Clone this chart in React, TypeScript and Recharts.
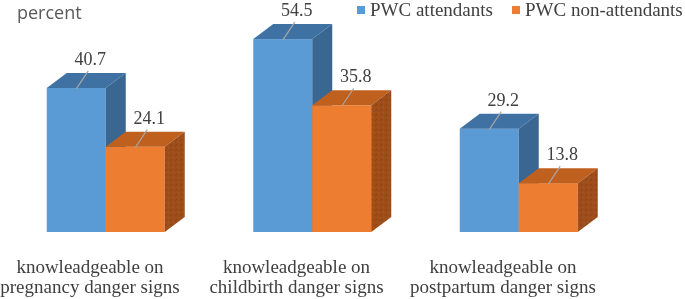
import { BarChart, Bar, XAxis, YAxis, LabelList } from 'recharts';

// categories split in two lines, as in the original figure
const categoryLine1 = ['knowleadgeable on', 'knowleadgeable on', 'knowleadgeable on'];
const categoryLine2 = ['pregnancy danger signs', 'childbirth danger signs', 'postpartum danger signs'];

const attendants = [40.7, 54.5, 29.2];
const nonAttendants = [24.1, 35.8, 13.8];

const seriesNames = ['PWC attendants', 'PWC non-attendants'];

const data = categoryLine1.map((l1, i) => ({
  name: l1 + ' ' + categoryLine2[i],
  idx: i,
  attendants: attendants[i],
  nonAttendants: nonAttendants[i],
}));

const DX = 20;
const DY = 15;
const SERIF = '"Liberation Serif", "Times New Roman", serif';

const faces = {
  blue: { front: '#5B9BD5', top: '#3F72A3', side: '#396791' },
  orange: { front: '#ED7D31', top: '#BF601F', side: 'url(#orangeSide)' },
};

function make3DBar(c: { front: string; top: string; side: string }) {
  return (props: any) => {
    const { x, y, width, height } = props;
    const r = x + width;
    const b = y + height;
    return (
      <g>
        <rect x={x} y={y} width={width} height={height} fill={c.front} />
        <polygon points={`${x},${y} ${x + DX},${y - DY} ${r + DX},${y - DY} ${r},${y}`} fill={c.top} />
        <polygon points={`${r},${y} ${r + DX},${y - DY} ${r + DX},${b - DY} ${r},${b}`} fill={c.side} />
      </g>
    );
  };
}

function ValueLabel(props: any) {
  const { x, y, width, value } = props;
  const cx = x + width / 2;
  return (
    <g>
      <line x1={cx} y1={y + 1} x2={cx + 12} y2={y - 17} stroke="#A6A6A6" strokeWidth={1.2} />
      <text x={cx + 14} y={y - 23} textAnchor="middle" fontFamily={SERIF} fontSize={18} fill="#404040">
        {value}
      </text>
    </g>
  );
}

function CategoryTick(props: any) {
  const { x, y, index } = props;
  return (
    <g>
      <text x={x - 16} y={y + 41} textAnchor="middle" fontFamily={SERIF} fontSize={19} fill="#404040">
        {categoryLine1[index]}
      </text>
      <text x={x - 16} y={y + 61} textAnchor="middle" fontFamily={SERIF} fontSize={19} fill="#404040">
        {categoryLine2[index]}
      </text>
    </g>
  );
}

export default function App() {
  return (
    <div style={{ position: 'fixed', left: 0, top: 0, width: 685, height: 299, background: '#fff' }}>
      <div
        style={{
          position: 'absolute', left: 17, top: 0, fontFamily: '"Open Sans", sans-serif',
          fontSize: 18, color: '#595959', lineHeight: '25px',
        }}
      >
        percent
      </div>
      <div
        style={{
          position: 'absolute', left: 357, top: 0, display: 'flex', fontFamily: SERIF,
          fontSize: 19, color: '#404040', lineHeight: '19px', whiteSpace: 'nowrap',
        }}
      >
        {seriesNames.map((n, i) => (
          <div key={n} style={{ display: 'flex', alignItems: 'center', marginRight: i === 0 ? 19 : 0 }}>
            <span
              style={{
                display: 'inline-block', width: 8, height: 8, marginRight: 5,
                background: i === 0 ? faces.blue.front : faces.orange.front,
              }}
            />
            {n}
          </div>
        ))}
      </div>
      <BarChart
        width={685}
        height={299}
        data={data}
        margin={{ top: 19.6, right: 62.75, left: 2.75, bottom: 0 }}
        barGap={0}
        barSize={59}
        style={{ position: 'absolute', left: 0, top: 0 }}
      >
        <defs>
          <pattern id="orangeSide" width="5" height="5" patternUnits="userSpaceOnUse">
            <rect width="5" height="5" fill="#9E4E1B" />
            <rect x="0" y="0" width="1" height="1" fill="#8C4416" />
            <rect x="3" y="2" width="1" height="1" fill="#AA5822" />
            <rect x="1" y="4" width="1" height="1" fill="#884015" />
          </pattern>
        </defs>
        <XAxis
          dataKey="name"
          height={67}
          axisLine={false}
          tickLine={false}
          tickSize={0}
          tickMargin={0}
          interval={0}
          tick={<CategoryTick />}
        />
        <YAxis hide domain={[0, 60]} />
        <Bar dataKey="attendants" name={seriesNames[0]} isAnimationActive={false} shape={make3DBar(faces.blue)}>
          <LabelList dataKey="attendants" content={<ValueLabel />} />
        </Bar>
        <Bar dataKey="nonAttendants" name={seriesNames[1]} isAnimationActive={false} shape={make3DBar(faces.orange)}>
          <LabelList dataKey="nonAttendants" content={<ValueLabel />} />
        </Bar>
      </BarChart>
    </div>
  );
}
